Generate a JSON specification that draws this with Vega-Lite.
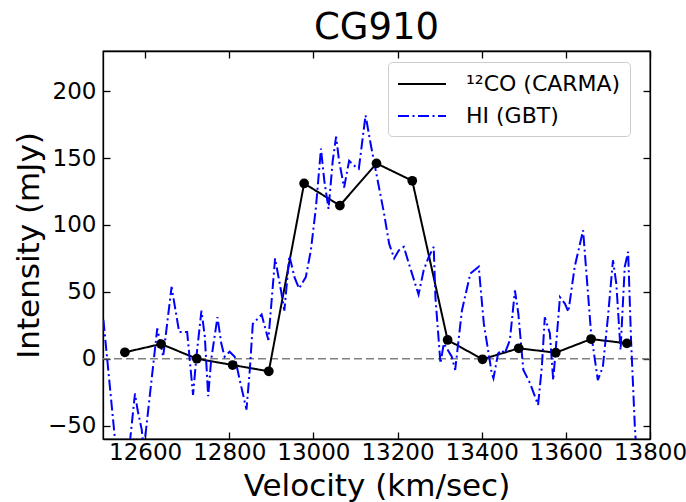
{
  "$schema": "https://vega.github.io/schema/vega-lite/v6.json",
  "width": 547,
  "height": 388,
  "autosize": {"type": "none"},
  "padding": {"left": 103, "top": 51, "right": 36, "bottom": 63},
  "title": {"text": "CG910", "fontSize": 37, "font": "DejaVu Sans", "fontWeight": "normal", "color": "black", "offset": 3},
  "config": {
    "font": "DejaVu Sans",
    "view": {"stroke": "black", "strokeWidth": 1.3},
    "axis": {
      "grid": false,
      "domainColor": "black",
      "domainWidth": 1.3,
      "tickColor": "black",
      "tickWidth": 1.3,
      "tickSize": -7,
      "labelFlush": false,
      "labelOverlap": false,
      "labelFont": "DejaVu Sans",
      "labelFontSize": 23,
      "labelColor": "black",
      "titleFont": "DejaVu Sans",
      "titleFontSize": 31,
      "titleFontWeight": "normal",
      "titleColor": "black"
    },
    "legend": {
      "labelFont": "DejaVu Sans",
      "labelFontSize": 22,
      "labelColor": "black"
    }
  },
  "datasets": {
    "spec": [
      {"v": 12552, "I": 4.8, "series": "¹²CO (CARMA)"},
      {"v": 12638, "I": 11, "series": "¹²CO (CARMA)"},
      {"v": 12723, "I": 0, "series": "¹²CO (CARMA)"},
      {"v": 12808, "I": -4.7, "series": "¹²CO (CARMA)"},
      {"v": 12894, "I": -9.4, "series": "¹²CO (CARMA)"},
      {"v": 12978, "I": 131, "series": "¹²CO (CARMA)"},
      {"v": 13063, "I": 114.5, "series": "¹²CO (CARMA)"},
      {"v": 13150, "I": 146, "series": "¹²CO (CARMA)"},
      {"v": 13235, "I": 133, "series": "¹²CO (CARMA)"},
      {"v": 13319, "I": 14, "series": "¹²CO (CARMA)"},
      {"v": 13402, "I": -0.4, "series": "¹²CO (CARMA)"},
      {"v": 13488, "I": 7.8, "series": "¹²CO (CARMA)"},
      {"v": 13576, "I": 4.5, "series": "¹²CO (CARMA)"},
      {"v": 13660, "I": 14.7, "series": "¹²CO (CARMA)"},
      {"v": 13745, "I": 11.5, "series": "¹²CO (CARMA)"},
      {"v": 12501, "I": 29, "series": "HI (GBT)"},
      {"v": 12533, "I": -75, "series": "HI (GBT)"},
      {"v": 12564, "I": -62, "series": "HI (GBT)"},
      {"v": 12576, "I": -26, "series": "HI (GBT)"},
      {"v": 12582, "I": -38, "series": "HI (GBT)"},
      {"v": 12592, "I": -53, "series": "HI (GBT)"},
      {"v": 12597, "I": -68, "series": "HI (GBT)"},
      {"v": 12629, "I": 22.7, "series": "HI (GBT)"},
      {"v": 12643, "I": 1.5, "series": "HI (GBT)"},
      {"v": 12663, "I": 53.7, "series": "HI (GBT)"},
      {"v": 12681, "I": 20, "series": "HI (GBT)"},
      {"v": 12700, "I": 20, "series": "HI (GBT)"},
      {"v": 12714, "I": -27, "series": "HI (GBT)"},
      {"v": 12722, "I": 1.5, "series": "HI (GBT)"},
      {"v": 12734, "I": 36, "series": "HI (GBT)"},
      {"v": 12742, "I": 16.4, "series": "HI (GBT)"},
      {"v": 12750, "I": -28, "series": "HI (GBT)"},
      {"v": 12757, "I": -1, "series": "HI (GBT)"},
      {"v": 12772, "I": 31, "series": "HI (GBT)"},
      {"v": 12781, "I": 11.5, "series": "HI (GBT)"},
      {"v": 12789, "I": 1.5, "series": "HI (GBT)"},
      {"v": 12801, "I": 5.2, "series": "HI (GBT)"},
      {"v": 12813, "I": 1.5, "series": "HI (GBT)"},
      {"v": 12825, "I": -16, "series": "HI (GBT)"},
      {"v": 12841, "I": -38, "series": "HI (GBT)"},
      {"v": 12849, "I": -8, "series": "HI (GBT)"},
      {"v": 12856, "I": 26, "series": "HI (GBT)"},
      {"v": 12877, "I": 33, "series": "HI (GBT)"},
      {"v": 12893, "I": 14, "series": "HI (GBT)"},
      {"v": 12909, "I": 75, "series": "HI (GBT)"},
      {"v": 12923, "I": 51, "series": "HI (GBT)"},
      {"v": 12931, "I": 36, "series": "HI (GBT)"},
      {"v": 12943, "I": 77, "series": "HI (GBT)"},
      {"v": 12955, "I": 61, "series": "HI (GBT)"},
      {"v": 12966, "I": 52.5, "series": "HI (GBT)"},
      {"v": 12982, "I": 61, "series": "HI (GBT)"},
      {"v": 12994, "I": 81, "series": "HI (GBT)"},
      {"v": 13006, "I": 113, "series": "HI (GBT)"},
      {"v": 13018, "I": 157, "series": "HI (GBT)"},
      {"v": 13026, "I": 133, "series": "HI (GBT)"},
      {"v": 13036, "I": 112, "series": "HI (GBT)"},
      {"v": 13046, "I": 148, "series": "HI (GBT)"},
      {"v": 13054, "I": 166, "series": "HI (GBT)"},
      {"v": 13061, "I": 148, "series": "HI (GBT)"},
      {"v": 13073, "I": 128, "series": "HI (GBT)"},
      {"v": 13085, "I": 148, "series": "HI (GBT)"},
      {"v": 13096, "I": 144.5, "series": "HI (GBT)"},
      {"v": 13108, "I": 142, "series": "HI (GBT)"},
      {"v": 13124, "I": 182, "series": "HI (GBT)"},
      {"v": 13136, "I": 160.7, "series": "HI (GBT)"},
      {"v": 13148, "I": 141, "series": "HI (GBT)"},
      {"v": 13168, "I": 108.5, "series": "HI (GBT)"},
      {"v": 13180, "I": 86, "series": "HI (GBT)"},
      {"v": 13192, "I": 75, "series": "HI (GBT)"},
      {"v": 13203, "I": 81, "series": "HI (GBT)"},
      {"v": 13215, "I": 83.6, "series": "HI (GBT)"},
      {"v": 13227, "I": 71, "series": "HI (GBT)"},
      {"v": 13250, "I": 48, "series": "HI (GBT)"},
      {"v": 13262, "I": 66, "series": "HI (GBT)"},
      {"v": 13274, "I": 76, "series": "HI (GBT)"},
      {"v": 13286, "I": 83.6, "series": "HI (GBT)"},
      {"v": 13290, "I": 46, "series": "HI (GBT)"},
      {"v": 13302, "I": -3.4, "series": "HI (GBT)"},
      {"v": 13310, "I": 11.5, "series": "HI (GBT)"},
      {"v": 13329, "I": 1.5, "series": "HI (GBT)"},
      {"v": 13337, "I": -8.4, "series": "HI (GBT)"},
      {"v": 13353, "I": 36, "series": "HI (GBT)"},
      {"v": 13373, "I": 63.7, "series": "HI (GBT)"},
      {"v": 13393, "I": 68.7, "series": "HI (GBT)"},
      {"v": 13405, "I": 26.4, "series": "HI (GBT)"},
      {"v": 13424, "I": -11, "series": "HI (GBT)"},
      {"v": 13428, "I": -14.6, "series": "HI (GBT)"},
      {"v": 13439, "I": 4, "series": "HI (GBT)"},
      {"v": 13447, "I": 6.5, "series": "HI (GBT)"},
      {"v": 13455, "I": 4, "series": "HI (GBT)"},
      {"v": 13467, "I": 14, "series": "HI (GBT)"},
      {"v": 13479, "I": 51, "series": "HI (GBT)"},
      {"v": 13487, "I": 34, "series": "HI (GBT)"},
      {"v": 13499, "I": -8.4, "series": "HI (GBT)"},
      {"v": 13515, "I": -18.4, "series": "HI (GBT)"},
      {"v": 13534, "I": -34.5, "series": "HI (GBT)"},
      {"v": 13543, "I": -6, "series": "HI (GBT)"},
      {"v": 13550, "I": 31, "series": "HI (GBT)"},
      {"v": 13562, "I": 19, "series": "HI (GBT)"},
      {"v": 13570, "I": -16, "series": "HI (GBT)"},
      {"v": 13586, "I": 46, "series": "HI (GBT)"},
      {"v": 13598, "I": 41, "series": "HI (GBT)"},
      {"v": 13606, "I": 35, "series": "HI (GBT)"},
      {"v": 13621, "I": 68.7, "series": "HI (GBT)"},
      {"v": 13641, "I": 96, "series": "HI (GBT)"},
      {"v": 13660, "I": 19, "series": "HI (GBT)"},
      {"v": 13676, "I": -16, "series": "HI (GBT)"},
      {"v": 13688, "I": -6, "series": "HI (GBT)"},
      {"v": 13700, "I": 31, "series": "HI (GBT)"},
      {"v": 13712, "I": 73.6, "series": "HI (GBT)"},
      {"v": 13720, "I": 56, "series": "HI (GBT)"},
      {"v": 13730, "I": 6.5, "series": "HI (GBT)"},
      {"v": 13740, "I": 68.7, "series": "HI (GBT)"},
      {"v": 13748, "I": 80, "series": "HI (GBT)"},
      {"v": 13755, "I": 14, "series": "HI (GBT)"},
      {"v": 13764, "I": -51, "series": "HI (GBT)"},
      {"v": 13769, "I": -75, "series": "HI (GBT)"}
    ],
    "zero": [{"level": 0}]
  },
  "layer": [
    {
      "data": {"name": "zero"},
      "mark": {"type": "rule", "color": "#808080", "strokeWidth": 1.5, "strokeDash": [8, 4]},
      "encoding": {
        "y": {"field": "level", "type": "quantitative", "scale": {"domain": [-60, 230], "nice": false},
          "axis": {"values": [-50, 0, 50, 100, 150, 200], "title": "Intensity (mJy)", "labelPadding": 14, "titlePadding": 2}}
      }
    },
    {
      "data": {"name": "spec"},
      "mark": {"type": "line", "clip": true, "strokeWidth": 2},
      "encoding": {
        "x": {"field": "v", "type": "quantitative", "scale": {"domain": [12500, 13800], "nice": false, "zero": false},
          "axis": {"values": [12600, 12800, 13000, 13200, 13400, 13600, 13800], "format": "d", "title": "Velocity (km/sec)", "labelPadding": 9, "titlePadding": 7}},
        "y": {"field": "I", "type": "quantitative", "axis": null},
        "color": {"field": "series", "type": "nominal",
          "scale": {"domain": ["¹²CO (CARMA)", "HI (GBT)"], "range": ["black", "#0000ff"]},
          "legend": {"title": null, "orient": "none", "legendX": 285, "legendY": 11, "padding": 9,
            "symbolType": "M-1,0H3", "symbolSize": 576, "symbolStrokeWidth": 2, "labelOffset": 43, "rowPadding": 8,
            "strokeColor": "#cccccc", "fillColor": "rgba(255,255,255,0.8)", "cornerRadius": 4}},
        "strokeDash": {"field": "series", "type": "nominal",
          "scale": {"domain": ["¹²CO (CARMA)", "HI (GBT)"], "range": [[1, 0], [11, 3.5, 2, 3.5]]},
          "legend": {"title": null, "orient": "none", "legendX": 285, "legendY": 11, "padding": 9,
            "symbolType": "M-1,0H3", "symbolSize": 576, "symbolStrokeWidth": 2, "labelOffset": 43, "rowPadding": 8,
            "strokeColor": "#cccccc", "fillColor": "rgba(255,255,255,0.8)", "cornerRadius": 4}}
      }
    },
    {
      "data": {"name": "spec"},
      "transform": [{"filter": "datum.series == '¹²CO (CARMA)'"}],
      "mark": {"type": "point", "filled": true, "color": "black", "opacity": 1, "size": 95},
      "encoding": {
        "x": {"field": "v", "type": "quantitative", "axis": null},
        "y": {"field": "I", "type": "quantitative", "axis": null}
      }
    },
    {
      "data": {"name": "spec"},
      "transform": [{"filter": "datum.series == '¹²CO (CARMA)'"}],
      "mark": {"type": "point", "opacity": 0},
      "encoding": {
        "x": {"field": "v", "type": "quantitative",
          "axis": {"orient": "top", "values": [12600, 12800, 13000, 13200, 13400, 13600, 13800], "labels": false, "title": null}},
        "y": {"field": "I", "type": "quantitative",
          "axis": {"orient": "right", "values": [-50, 0, 50, 100, 150, 200], "labels": false, "title": null}}
      }
    }
  ],
  "resolve": {"axis": {"x": "independent", "y": "independent"}}
}
